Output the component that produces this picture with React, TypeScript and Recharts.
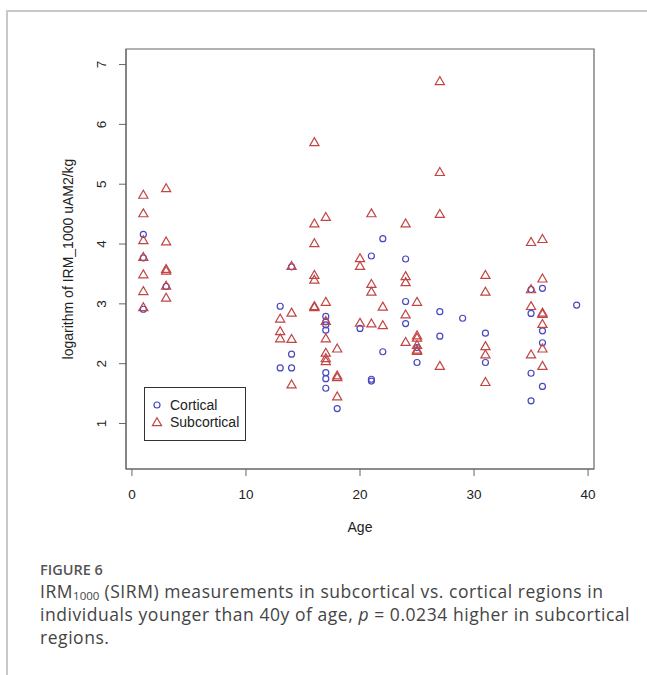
import { ScatterChart, Scatter, XAxis, YAxis, ReferenceArea, Legend } from "recharts";

// ages and log IRM values
const cortAge = [1, 1, 1, 3, 13, 13, 14, 14, 14, 17, 17, 17, 17, 17, 17, 17, 18, 20, 21, 21, 21, 22, 22, 24, 24, 24, 25, 25, 27, 27, 29, 31, 31, 35, 35, 35, 35, 36, 36, 36, 36, 39];
const cortVal = [4.16, 3.77, 2.91, 3.29, 2.96, 1.93, 3.62, 2.16, 1.93, 2.79, 2.7, 2.65, 2.56, 1.85, 1.75, 1.59, 1.25, 2.59, 3.8, 1.74, 1.71, 4.09, 2.2, 3.75, 3.04, 2.67, 2.27, 2.02, 2.87, 2.46, 2.76, 2.51, 2.02, 3.24, 2.84, 1.84, 1.38, 3.26, 2.55, 2.35, 1.62, 2.98];

const subAge = [1, 1, 1, 1, 1, 1, 1, 3, 3, 3, 3, 3, 3, 13, 13, 13, 14, 14, 14, 14, 16, 16, 16, 16, 16, 16, 16, 17, 17, 17, 17, 17, 17, 17, 18, 18, 18, 18, 20, 20, 20, 21, 21, 21, 21, 22, 22, 24, 24, 24, 24, 24, 25, 25, 25, 25, 25, 25, 27, 27, 27, 27, 31, 31, 31, 31, 31, 35, 35, 35, 35, 36, 36, 36, 36, 36, 36, 36];
const subVal = [4.81, 4.5, 4.05, 3.77, 3.48, 3.2, 2.93, 4.92, 4.03, 3.57, 3.54, 3.29, 3.09, 2.74, 2.53, 2.41, 3.62, 2.84, 2.4, 1.64, 5.69, 4.33, 4.0, 3.47, 3.39, 2.95, 2.93, 4.44, 3.02, 2.7, 2.41, 2.17, 2.08, 2.03, 2.24, 1.79, 1.76, 1.44, 3.75, 3.62, 2.67, 4.5, 3.32, 3.19, 2.66, 2.94, 2.63, 4.33, 3.45, 3.35, 2.81, 2.35, 3.02, 2.46, 2.42, 2.3, 2.22, 2.2, 6.71, 5.19, 4.49, 1.95, 3.47, 3.19, 2.28, 2.14, 1.68, 4.02, 3.23, 2.95, 2.14, 4.07, 3.41, 2.84, 2.82, 2.65, 2.24, 1.95];

const xTicks = [0, 10, 20, 30, 40];
const yTicks = [1, 2, 3, 4, 5, 6, 7];
const X_DOMAIN = [-0.52, 40.52];
const Y_DOMAIN = [0.24, 7.26];

const BLUE = "#4848c0";
const RED = "#c24444";
const AXIS = "#666";
const FONT = "'Liberation Sans', Arial, sans-serif";

const cortical = cortAge.map((a, i) => ({ age: a, val: cortVal[i] }));
const subcortical = subAge.map((a, i) => ({ age: a, val: subVal[i] }));

const Circle = (p: any) => (
  <circle cx={p.cx} cy={p.cy} r={3} fill="none" stroke={BLUE} strokeWidth={1.2} />
);

const Triangle = (p: any) => {
  const r = 3.4;
  const { cx, cy } = p;
  const d = `M${cx},${cy - r * 1.555} L${cx + r * 1.347},${cy + r * 0.778} L${cx - r * 1.347},${cy + r * 0.778} Z`;
  return <path d={d} fill="none" stroke={RED} strokeWidth={1.2} />;
};

const YTick = (p: any) => (
  <text
    x={p.x}
    y={p.y}
    transform={`rotate(-90 ${p.x} ${p.y})`}
    textAnchor="middle"
    fontSize={13.5}
    fontFamily={FONT}
    fill="#222"
  >
    {p.payload.value}
  </text>
);

const YLabel = (p: any) => {
  const vb = p.viewBox;
  const x = 73;
  const y = vb.y + vb.height / 2;
  return (
    <text x={x} y={y} transform={`rotate(-90 ${x} ${y})`} textAnchor="middle" fontSize={14} fontFamily={FONT} fill="#222">
      logarithm of IRM_1000 uAM2/kg
    </text>
  );
};

const LegendBox = () => (
  <svg width={102} height={54}>
    <rect x={0.5} y={0.5} width={101} height={53} fill="#fff" stroke="#333" />
    <Circle cx={13} cy={18} />
    <text x={26} y={23} fontSize={14} fontFamily={FONT} fill="#222">Cortical</text>
    <Triangle cx={13} cy={36} />
    <text x={26} y={40} fontSize={14} fontFamily={FONT} fill="#222">Subcortical</text>
  </svg>
);

const lineStyle = { fontSize: 17.5, lineHeight: "23px", height: 23, letterSpacing: 0.55 };

export default function App() {
  return (
    <div style={{ position: "relative", width: 647, height: 675, background: "#fff", overflow: "hidden" }}>
      <style>{`body{margin:0}`}</style>
      <div
        style={{
          position: "absolute",
          left: 6,
          top: 10,
          right: -2,
          bottom: -2,
          borderTop: "2px solid #c8c8c8",
          borderLeft: "2px solid #c8c8c8",
        }}
      />
      <div style={{ position: "absolute", left: 0, top: 0 }}>
        <ScatterChart width={647} height={560} margin={{ top: 49, right: 53, bottom: 0, left: 0 }}>
          <XAxis
            type="number"
            dataKey="age"
            domain={X_DOMAIN}
            ticks={xTicks}
            allowDataOverflow
            height={91}
            tickSize={7}
            tickMargin={13}
            axisLine={{ stroke: AXIS }}
            tickLine={{ stroke: AXIS }}
            tick={{ fontSize: 13.5, fontFamily: FONT, fill: "#222" }}
            label={{ value: "Age", position: "insideBottom", offset: 28, fontSize: 14, fontFamily: FONT, fill: "#222" }}
          />
          <YAxis
            type="number"
            dataKey="val"
            domain={Y_DOMAIN}
            ticks={yTicks}
            allowDataOverflow
            width={126}
            tickSize={7}
            tickMargin={13}
            axisLine={{ stroke: AXIS }}
            tickLine={{ stroke: AXIS }}
            tick={<YTick />}
            label={{ content: (p: any) => <YLabel {...p} /> }}
          />
          <ReferenceArea
            x1={X_DOMAIN[0]}
            x2={X_DOMAIN[1]}
            y1={Y_DOMAIN[0]}
            y2={Y_DOMAIN[1]}
            fill="none"
            stroke={AXIS}
            strokeWidth={1.2}
            ifOverflow="visible"
          />
          <Scatter name="Cortical" data={cortical} shape={Circle} isAnimationActive={false} />
          <Scatter name="Subcortical" data={subcortical} shape={Triangle} isAnimationActive={false} />
          <Legend
            layout="horizontal"
            verticalAlign="middle"
            align="center"
            content={() => <LegendBox />}
            wrapperStyle={{ left: 144, top: 387, width: 102, height: 54 }}
          />
        </ScatterChart>
      </div>
      <div
        style={{
          position: "absolute",
          left: 40,
          top: 559,
          fontFamily: "'Open Sans', sans-serif",
          color: "#444",
          whiteSpace: "nowrap",
        }}
      >
        <div style={{ fontSize: 14.5, fontWeight: 600, color: "#555", lineHeight: "21px", height: 21 }}>FIGURE 6</div>
        <div style={lineStyle}>
          IRM<sub style={{ fontSize: 11.5, lineHeight: 0, verticalAlign: "-2px", letterSpacing: 0 }}>1000</sub> (SIRM) measurements in subcortical vs. cortical regions in
        </div>
        <div style={lineStyle}>
          individuals younger than 40y of age, <i>p</i> = 0.0234 higher in subcortical
        </div>
        <div style={lineStyle}>regions.</div>
      </div>
    </div>
  );
}
